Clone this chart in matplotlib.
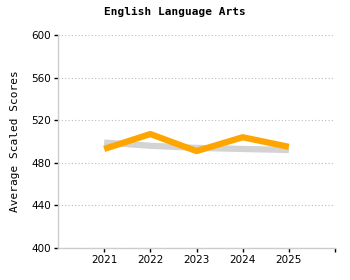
import matplotlib
matplotlib.use("Agg")
import matplotlib.pyplot as plt

years = ["2021", "2022", "2023", "2024", "2025"]
school = [493, 507, 491, 504, 495]
state = [499, 496, 494, 493, 492]
yticks = [400, 440, 480, 520, 560, 600]

fig = plt.figure(figsize=(3.5, 2.8), dpi=100)
ax = fig.add_axes([58/350, 1-248/280, (335-58)/350, (248-35)/280])

x = list(range(1, len(years) + 1))
ax.plot(x, state, color="#d3d3d3", lw=4.5, solid_capstyle="butt", zorder=2)
ax.plot(x, school, color="#ffa500", lw=4.5, solid_capstyle="butt", zorder=3)

ax.set_xlim(0, 6)
ax.set_ylim(400, 600)
ax.set_xticks(x + [6])
ax.set_xticklabels(years + [""], fontsize=7.5, family="DejaVu Sans")
ax.set_yticks(yticks)
ax.set_yticklabels([str(v) for v in yticks], fontsize=7.5, family="DejaVu Sans")
ax.tick_params(axis="both", length=3, width=1, color="black", pad=2)
for s in ["top", "right"]:
    ax.spines[s].set_visible(False)
for s in ["left", "bottom"]:
    ax.spines[s].set_color("#cccccc")
    ax.spines[s].set_linewidth(1)
ax.yaxis.grid(True, color="#bbbbbb", linestyle=(0, (1, 2)), linewidth=0.8)
ax.set_axisbelow(True)
ax.set_ylabel("Average Scaled Scores", family="DejaVu Sans Mono", fontsize=8, labelpad=8)

fig.text(0.5, 1-12/280, "English Language Arts", ha="center", va="center",
         family="DejaVu Sans Mono", fontweight="bold", fontsize=8)

fig.savefig("out.png", dpi=100)
